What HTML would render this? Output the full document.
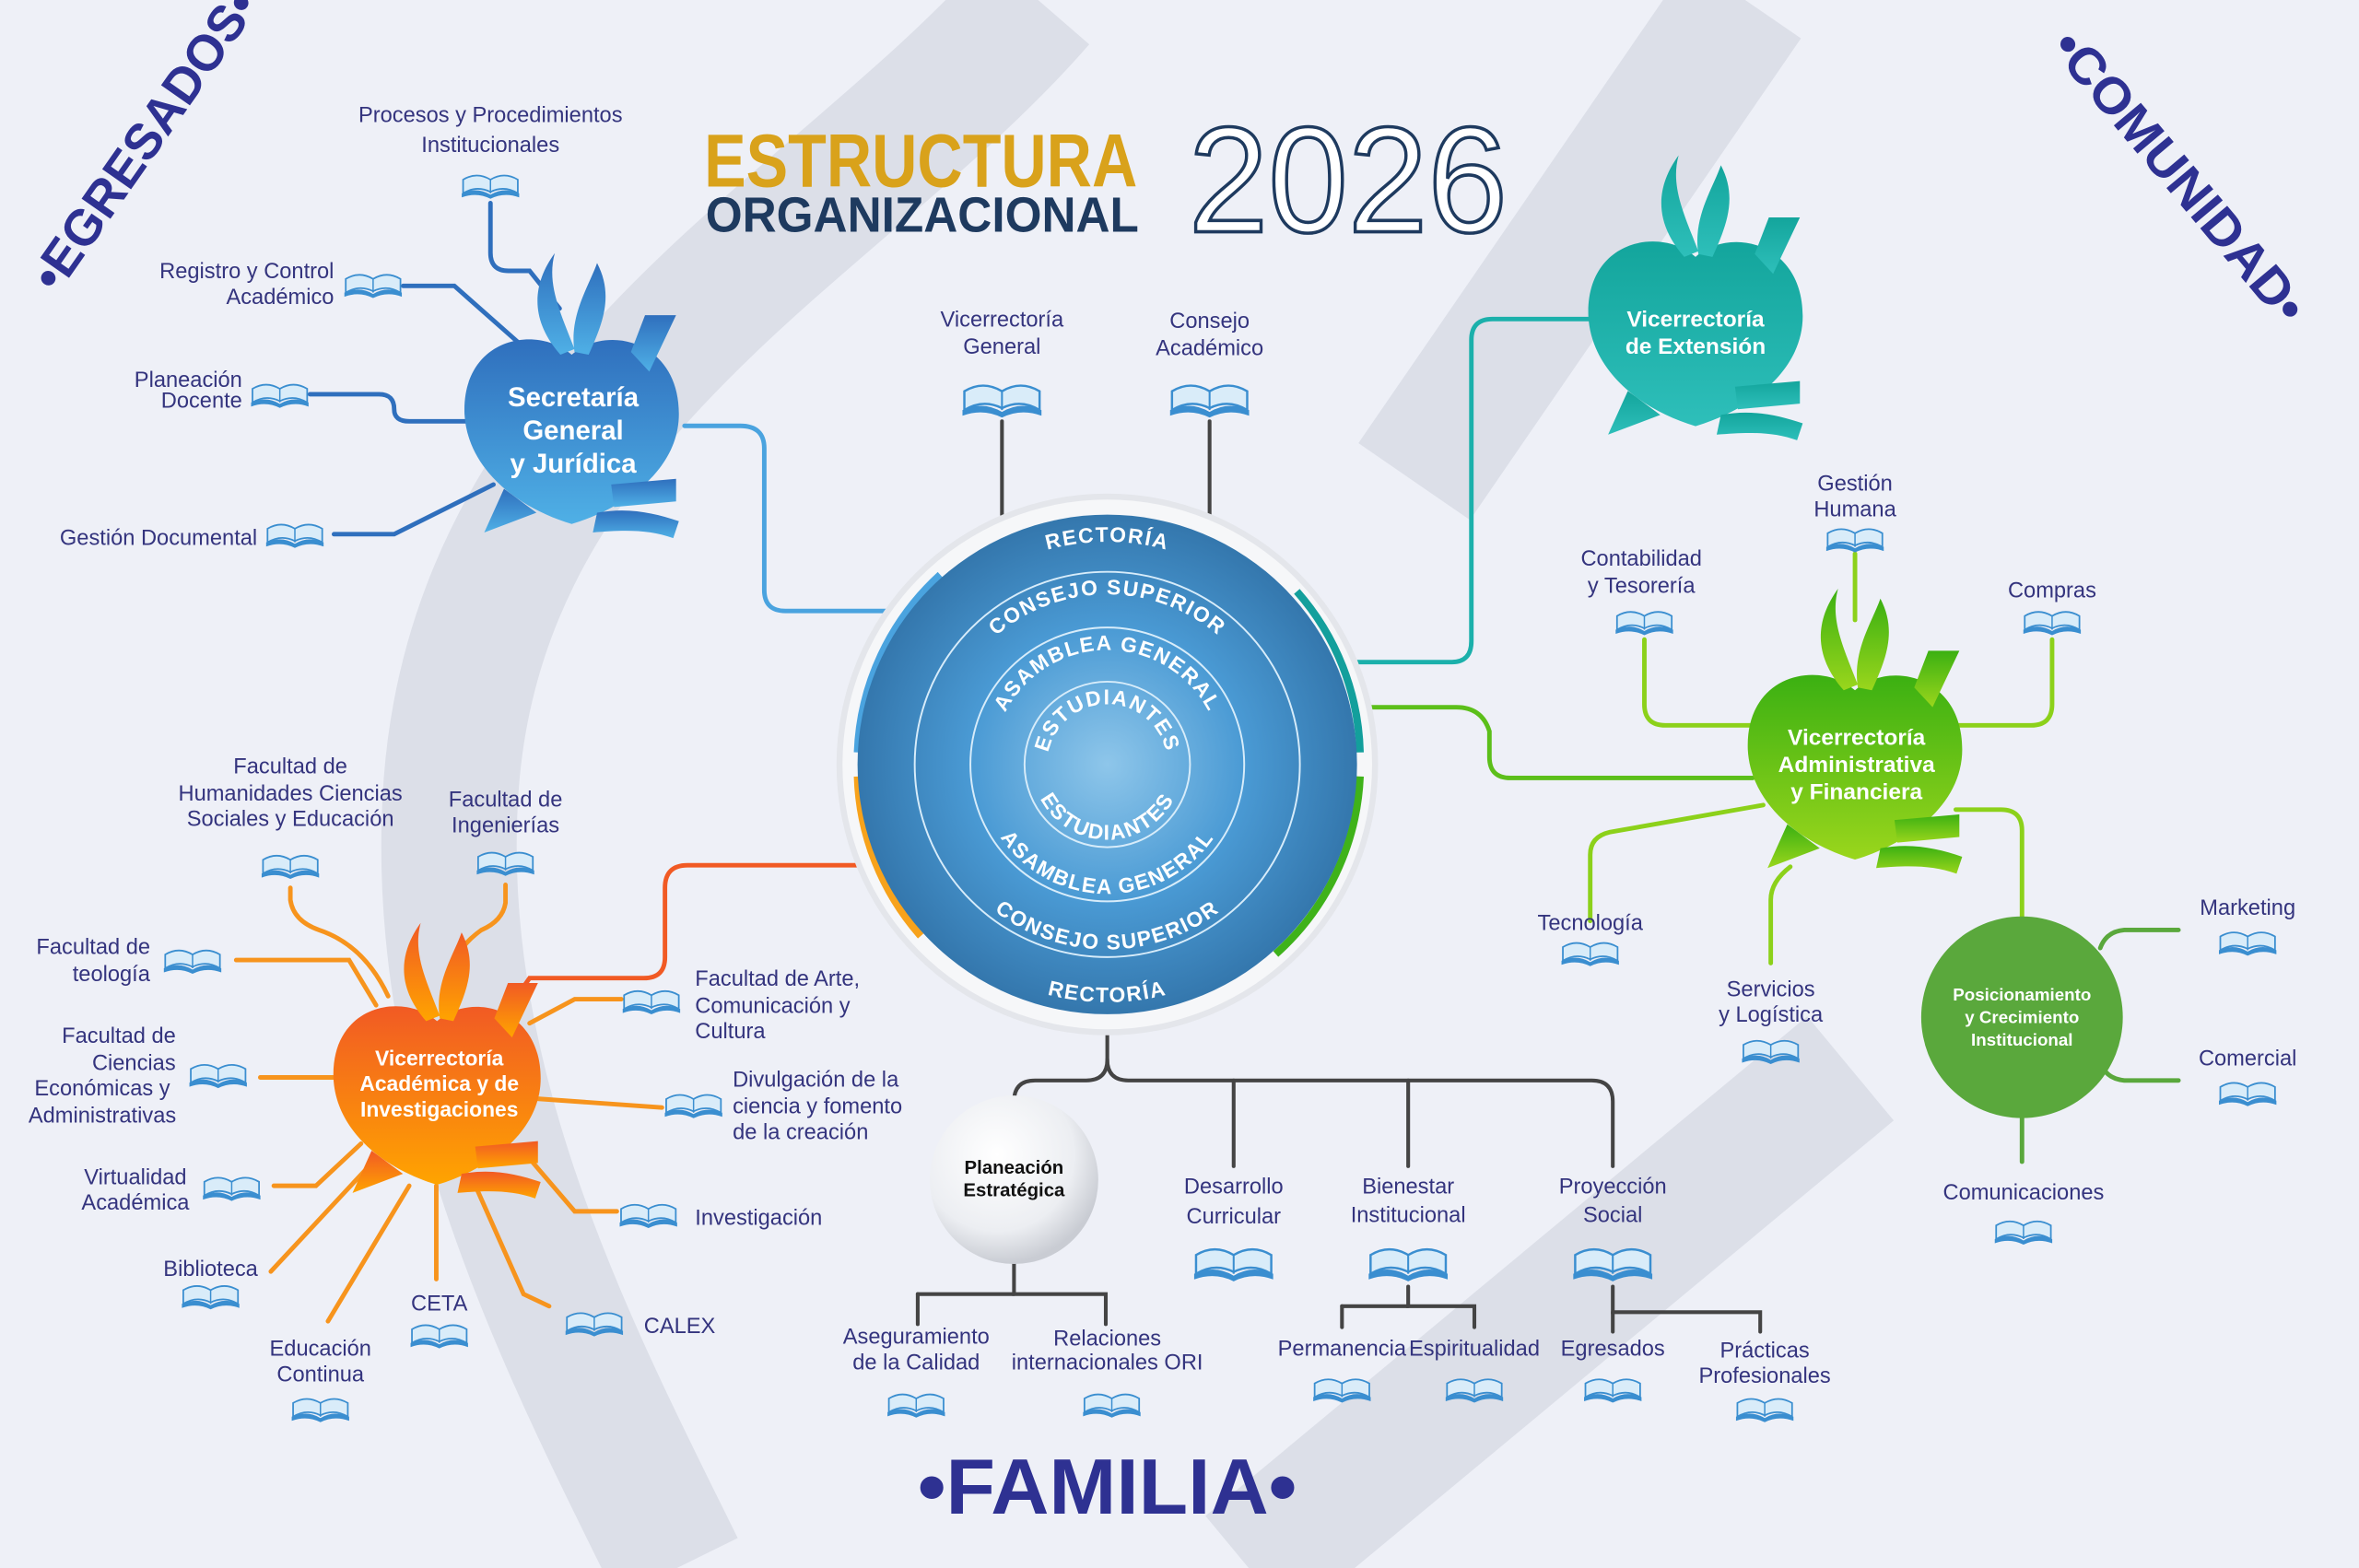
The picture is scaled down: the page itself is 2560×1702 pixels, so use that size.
<!DOCTYPE html>
<html><head><meta charset="utf-8"><style>
html,body{margin:0;padding:0;background:#eef0f7;}
svg{display:block;}
text{font-family:"Liberation Sans",sans-serif;}
.lb{fill:#34347e;font-size:14.5px;text-anchor:middle;}
.lbl{fill:#34347e;font-size:14.5px;text-anchor:start;}
.lbr{fill:#34347e;font-size:14.5px;text-anchor:end;}
.ring{fill:#fff;font-size:14px;font-weight:bold;letter-spacing:1px;}
.nd{fill:#fff;font-weight:bold;text-anchor:middle;}
</style></head><body>
<svg width="2560" height="1702" viewBox="0 0 1568 1042" preserveAspectRatio="none" xmlns="http://www.w3.org/2000/svg">
<defs>
<radialGradient id="cg" cx="50%" cy="50%" r="50%"><stop offset="0" stop-color="#8ec6ea"/><stop offset="0.55" stop-color="#4a9ad4"/><stop offset="1" stop-color="#3477ad"/></radialGradient>
<linearGradient id="gb" x1="0" y1="0" x2="0" y2="1"><stop offset="0" stop-color="#2f6fbd"/><stop offset="1" stop-color="#4fb0e6"/></linearGradient>
<linearGradient id="gt" x1="0" y1="0" x2="0" y2="1"><stop offset="0" stop-color="#13a59c"/><stop offset="1" stop-color="#2ebfba"/></linearGradient>
<linearGradient id="gg" x1="0" y1="0" x2="0" y2="1"><stop offset="0" stop-color="#3bb012"/><stop offset="1" stop-color="#9ad61c"/></linearGradient>
<linearGradient id="go" x1="0" y1="0" x2="0" y2="1"><stop offset="0" stop-color="#f15a24"/><stop offset="1" stop-color="#ffa400"/></linearGradient>
<radialGradient id="gw" cx="40%" cy="35%" r="65%"><stop offset="0" stop-color="#ffffff"/><stop offset="0.7" stop-color="#eceef2"/><stop offset="1" stop-color="#c9ccd3"/></radialGradient>
<symbol id="heart" viewBox="-80 -125 160 205" overflow="visible">
<path d="M0,-50 C-25,-72 -78,-62 -76,-8 C-74,30 -40,58 0,70 C40,58 76,30 76,-8 C76,-60 25,-72 0,-50 Z"/>
<path d="M-8,-50 C-30,-75 -28,-100 -12,-122 C-18,-100 -8,-80 2,-54 Z"/>
<path d="M2,-52 C-2,-78 12,-98 18,-115 C30,-92 22,-72 12,-50 Z"/>
<path d="M42,-52 L52,-78 L74,-78 L55,-38 Z"/>
<path d="M-48,45 L-62,76 L-25,62 Z"/>
<path d="M28,42 L74,38 L74,54 L30,58 Z"/>
<path d="M18,62 C40,58 58,62 76,68 L72,80 C55,74 38,74 15,76 Z"/>
</symbol>
<symbol id="book" viewBox="-22 -12 44 24" overflow="visible">
<path d="M-20,6 Q-10,0 0,5 Q10,0 20,6 L20,-4 Q10,-10 0,-4 Q-10,-10 -20,-4 Z" fill="#d9ecf9" stroke="#3a8ed0" stroke-width="1.2"/>
<path d="M-21,6 Q-10,1 0,7 Q10,1 21,6 L21,9 Q10,5 0,10 Q-10,5 -21,9 Z" fill="#3a8ed0"/>
<line x1="0" y1="-4" x2="0" y2="6" stroke="#3a8ed0" stroke-width="1"/>
</symbol>
<path id="t1" d="M588,508 A148,148 0 0 1 884,508"/>
<path id="t2" d="M623,508 A113,113 0 0 1 849,508"/>
<path id="t3" d="M660,508 A76,76 0 0 1 812,508"/>
<path id="t4" d="M696,508 A40,40 0 0 1 776,508"/>
<path id="b1" d="M578,508 A158,158 0 0 0 894,508"/>
<path id="b2" d="M613,508 A123,123 0 0 0 859,508"/>
<path id="b3" d="M650,508 A86,86 0 0 0 822,508"/>
<path id="b4" d="M686,508 A50,50 0 0 0 786,508"/>
</defs>

<rect width="1568" height="1042" fill="#eef0f7"/>
<g fill="none" stroke="#dcdfe8" stroke-width="90">
<path d="M690,0 C560,150 320,260 300,520 C285,720 380,900 450,1042"/>
<path d="M1160,0 L940,320"/>
<path d="M830,1042 L1230,710"/>
</g>

<text transform="translate(38,196) rotate(-55)" font-size="34" font-weight="bold" fill="#2e3192" textLength="235" lengthAdjust="spacingAndGlyphs">•EGRESADOS•</text>
<text transform="translate(1362,32) rotate(50)" font-size="34" font-weight="bold" fill="#2e3192" textLength="242" lengthAdjust="spacingAndGlyphs">•COMUNIDAD•</text>
<text x="736" y="1006" font-size="52" font-weight="bold" fill="#2e3192" text-anchor="middle" textLength="252" lengthAdjust="spacingAndGlyphs">•FAMILIA•</text>

<text x="468" y="124" font-size="50" font-weight="bold" fill="#d9a21b" textLength="288" lengthAdjust="spacingAndGlyphs">ESTRUCTURA</text>
<text x="469" y="154" font-size="33" font-weight="bold" fill="#1e3a5f" textLength="288" lengthAdjust="spacingAndGlyphs">ORGANIZACIONAL</text>
<text x="790" y="154" font-size="100" fill="#fff" stroke="#1e3a5f" stroke-width="2.2" textLength="212" lengthAdjust="spacingAndGlyphs">2026</text>

<g fill="none" stroke-width="3" stroke-linecap="round">
<g stroke="#2f6fbd">
<path d="M326,135 V168 Q326,180 338,180 H352 L372,205"/>
<path d="M268,190 H302 L345,228"/>
<path d="M206,262 H252 Q262,262 262,272 Q262,280 272,280 H312"/>
<path d="M222,355 H262 L328,322"/>
<path d="M455,283 H492 Q508,283 508,298 V392 Q508,406 522,406 H600" stroke="#4aa3df"/>
</g>
<path d="M895,440 H965 Q978,440 978,426 V226 Q978,212 992,212 H1060" stroke="#1bb0ab"/>
<path d="M905,470 H968 Q985,470 990,486 V503 Q990,517 1004,517 H1165" stroke="#5cbf1a"/>
<g stroke="#8cd11a">
<path d="M1093,425 V468 Q1093,482 1107,482 H1165"/>
<path d="M1233,368 V412"/>
<path d="M1364,425 V468 Q1364,482 1350,482 H1300"/>
<path d="M1057,612 V568 Q1057,556 1070,553 L1172,535"/>
<path d="M1177,640 V598 Q1177,586 1190,576"/>
<path d="M1300,538 H1330 Q1344,538 1344,552 V612"/>
</g>
<g stroke="#5aa83c">
<path d="M1448,618 H1412 Q1400,619 1396,630"/>
<path d="M1448,718 H1412 Q1402,717 1398,710"/>
<path d="M1344,742 V772"/>
</g>
<path d="M345,660 L352,650 H428 Q442,650 442,636 V590 Q442,575 457,575 H578" stroke="#f15a24"/>
<g stroke="#f7941d">
<path d="M193,590 V598 Q195,612 212,618 Q242,628 258,662"/>
<path d="M336,588 V600 Q334,612 320,618 Q306,628 302,640"/>
<path d="M157,638 H232 L250,668"/>
<path d="M173,716 H222"/>
<path d="M182,788 H210 L240,760"/>
<path d="M180,845 L248,772"/>
<path d="M290,850 V788"/>
<path d="M218,878 L272,788"/>
<path d="M365,868 L348,860 L316,788"/>
<path d="M410,805 H382 L352,770"/>
<path d="M440,736 L355,730"/>
<path d="M413,664 H382 L352,680"/>
</g>
<g stroke="#444" stroke-width="2.5">
<path d="M666,280 V342"/><path d="M804,280 V342"/>
<path d="M736,688 V704 Q736,718 722,718 H688 Q674,718 674,732 V735"/>
<path d="M736,704 Q736,718 750,718 H1058 Q1072,718 1072,732 V775"/>
<path d="M820,718 V775"/><path d="M936,718 V775"/>
<path d="M674,840 V860 H735 V880"/><path d="M610,860 H674"/><path d="M610,860 V880"/>
<path d="M936,855 V868 H980 V882"/><path d="M892,868 H936"/><path d="M892,868 V882"/>
<path d="M1072,855 V872 H1170 V885"/><path d="M1072,872 V885"/>
</g>
</g>

<circle cx="736" cy="508" r="180" fill="#e4e6eb"/>
<circle cx="736" cy="508" r="176" fill="#f6f7f9"/>
<g fill="none" stroke-width="5">
<path d="M570,500 A168,168 0 0 1 625,382" stroke="#4aa3df"/>
<path d="M570,516 A168,168 0 0 0 612,622" stroke="#f7a21b"/>
<path d="M862,393 A168,168 0 0 1 904,500" stroke="#139f9c"/>
<path d="M904,516 A168,168 0 0 1 848,634" stroke="#3fb21a"/>
</g>
<circle cx="736" cy="508" r="166" fill="url(#cg)"/>
<g fill="none" stroke="#d7ecfa" stroke-width="1.2">
<circle cx="736" cy="508" r="128"/><circle cx="736" cy="508" r="91"/><circle cx="736" cy="508" r="55"/>
</g>
<text class="ring"><textPath href="#t1" startOffset="50%" text-anchor="middle">RECTORÍA</textPath></text>
<text class="ring" font-size="15"><textPath href="#t2" startOffset="50%" text-anchor="middle">CONSEJO SUPERIOR</textPath></text>
<text class="ring" font-size="15"><textPath href="#t3" startOffset="50%" text-anchor="middle">ASAMBLEA GENERAL</textPath></text>
<text class="ring" font-size="12"><textPath href="#t4" startOffset="50%" text-anchor="middle">ESTUDIANTES</textPath></text>
<text class="ring"><textPath href="#b1" startOffset="50%" text-anchor="middle">RECTORÍA</textPath></text>
<text class="ring" font-size="15"><textPath href="#b2" startOffset="50%" text-anchor="middle">CONSEJO SUPERIOR</textPath></text>
<text class="ring" font-size="15"><textPath href="#b3" startOffset="50%" text-anchor="middle">ASAMBLEA GENERAL</textPath></text>
<text class="ring" font-size="12"><textPath href="#b4" startOffset="50%" text-anchor="middle">ESTUDIANTES</textPath></text>

<use href="#heart" x="305" y="165" width="150" height="193" fill="url(#gb)"/>
<text class="nd" font-size="18"><tspan x="381" y="270">Secretaría</tspan><tspan x="381" y="292">General</tspan><tspan x="381" y="314">y Jurídica</tspan></text>
<use href="#heart" x="1052" y="100" width="150" height="193" fill="url(#gt)"/>
<text class="nd" font-size="15"><tspan x="1127" y="217">Vicerrectoría</tspan><tspan x="1127" y="235">de Extensión</tspan></text>
<use href="#heart" x="1158" y="388" width="150" height="193" fill="url(#gg)"/>
<text class="nd" font-size="15"><tspan x="1234" y="495">Vicerrectoría</tspan><tspan x="1234" y="513">Administrativa</tspan><tspan x="1234" y="531">y Financiera</tspan></text>
<use href="#heart" x="218" y="610" width="145" height="187" fill="url(#go)"/>
<text class="nd" font-size="14"><tspan x="292" y="708">Vicerrectoría</tspan><tspan x="292" y="725">Académica y de</tspan><tspan x="292" y="742">Investigaciones</tspan></text>

<circle cx="1344" cy="676" r="67" fill="#5aa83c"/>
<text class="nd" font-size="11.5"><tspan x="1344" y="665">Posicionamiento</tspan><tspan x="1344" y="680">y Crecimiento</tspan><tspan x="1344" y="695">Institucional</tspan></text>
<circle cx="674" cy="784" r="56" fill="url(#gw)"/>
<text font-size="12.5" font-weight="bold" fill="#111" text-anchor="middle"><tspan x="674" y="780">Planeación</tspan><tspan x="674" y="795">Estratégica</tspan></text>

<g>
<use href="#book" x="306" y="112" width="40" height="22"/>
<use href="#book" x="228" y="178" width="40" height="22"/>
<use href="#book" x="166" y="251" width="40" height="22"/>
<use href="#book" x="176" y="344" width="40" height="22"/>
<use href="#book" x="636" y="250" width="60" height="30"/>
<use href="#book" x="774" y="250" width="60" height="30"/>
<use href="#book" x="173" y="564" width="40" height="22"/>
<use href="#book" x="316" y="562" width="40" height="22"/>
<use href="#book" x="108" y="627" width="40" height="22"/>
<use href="#book" x="125" y="703" width="40" height="22"/>
<use href="#book" x="134" y="778" width="40" height="22"/>
<use href="#book" x="120" y="850" width="40" height="22"/>
<use href="#book" x="272" y="876" width="40" height="22"/>
<use href="#book" x="193" y="925" width="40" height="22"/>
<use href="#book" x="375" y="868" width="40" height="22"/>
<use href="#book" x="411" y="796" width="40" height="22"/>
<use href="#book" x="441" y="723" width="40" height="22"/>
<use href="#book" x="413" y="654" width="40" height="22"/>
<use href="#book" x="790" y="824" width="60" height="30"/>
<use href="#book" x="906" y="824" width="60" height="30"/>
<use href="#book" x="1042" y="824" width="60" height="30"/>
<use href="#book" x="589" y="922" width="40" height="22"/>
<use href="#book" x="719" y="922" width="40" height="22"/>
<use href="#book" x="872" y="912" width="40" height="22"/>
<use href="#book" x="960" y="912" width="40" height="22"/>
<use href="#book" x="1052" y="912" width="40" height="22"/>
<use href="#book" x="1153" y="925" width="40" height="22"/>
<use href="#book" x="1037" y="622" width="40" height="22"/>
<use href="#book" x="1157" y="687" width="40" height="22"/>
<use href="#book" x="1073" y="402" width="40" height="22"/>
<use href="#book" x="1213" y="347" width="40" height="22"/>
<use href="#book" x="1344" y="402" width="40" height="22"/>
<use href="#book" x="1474" y="615" width="40" height="22"/>
<use href="#book" x="1474" y="715" width="40" height="22"/>
<use href="#book" x="1325" y="807" width="40" height="22"/>
</g>

<text class="lb"><tspan x="326" y="81">Procesos y Procedimientos</tspan><tspan x="326" y="101">Institucionales</tspan></text>
<text class="lbr"><tspan x="222" y="185">Registro y Control</tspan><tspan x="222" y="202">Académico</tspan></text>
<text class="lbr"><tspan x="161" y="257">Planeación</tspan><tspan x="161" y="271">Docente</tspan></text>
<text class="lbr" x="171" y="362">Gestión Documental</text>
<text class="lb"><tspan x="666" y="217">Vicerrectoría</tspan><tspan x="666" y="235">General</tspan></text>
<text class="lb"><tspan x="804" y="218">Consejo</tspan><tspan x="804" y="236">Académico</tspan></text>
<text class="lb"><tspan x="193" y="514">Facultad de</tspan><tspan x="193" y="532">Humanidades Ciencias</tspan><tspan x="193" y="549">Sociales y Educación</tspan></text>
<text class="lb"><tspan x="336" y="536">Facultad de</tspan><tspan x="336" y="553">Ingenierías</tspan></text>
<text class="lb"><tspan x="62" y="634">Facultad de</tspan><tspan x="74" y="652">teología</tspan></text>
<text class="lb"><tspan x="79" y="693">Facultad de</tspan><tspan x="89" y="711">Ciencias</tspan><tspan x="68" y="728">Económicas y</tspan><tspan x="68" y="746">Administrativas</tspan></text>
<text class="lb"><tspan x="90" y="787">Virtualidad</tspan><tspan x="90" y="804">Académica</tspan></text>
<text class="lb" x="140" y="848">Biblioteca</text>
<text class="lb" x="292" y="871">CETA</text>
<text class="lb"><tspan x="213" y="901">Educación</tspan><tspan x="213" y="918">Continua</tspan></text>
<text class="lbl" x="428" y="886">CALEX</text>
<text class="lbl" x="462" y="814">Investigación</text>
<text class="lbl"><tspan x="487" y="722">Divulgación de la</tspan><tspan x="487" y="740">ciencia y fomento</tspan><tspan x="487" y="757">de la creación</tspan></text>
<text class="lbl"><tspan x="462" y="655">Facultad de Arte,</tspan><tspan x="462" y="673">Comunicación y</tspan><tspan x="462" y="690">Cultura</tspan></text>
<text class="lb"><tspan x="820" y="793">Desarrollo</tspan><tspan x="820" y="813">Curricular</tspan></text>
<text class="lb"><tspan x="936" y="793">Bienestar</tspan><tspan x="936" y="812">Institucional</tspan></text>
<text class="lb"><tspan x="1072" y="793">Proyección</tspan><tspan x="1072" y="812">Social</tspan></text>
<text class="lb" font-size="13.5"><tspan x="609" y="893">Aseguramiento</tspan><tspan x="609" y="910">de la Calidad</tspan></text>
<text class="lb" font-size="13.5"><tspan x="736" y="894">Relaciones</tspan><tspan x="736" y="910">internacionales ORI</tspan></text>
<text class="lb" font-size="13" x="892" y="901">Permanencia</text>
<text class="lb" font-size="13" x="980" y="901">Espiritualidad</text>
<text class="lb" font-size="13.5" x="1072" y="901">Egresados</text>
<text class="lb" font-size="13.5"><tspan x="1173" y="902">Prácticas</tspan><tspan x="1173" y="919">Profesionales</tspan></text>
<text class="lb" x="1057" y="618">Tecnología</text>
<text class="lb"><tspan x="1177" y="662">Servicios</tspan><tspan x="1177" y="679">y Logística</tspan></text>
<text class="lb"><tspan x="1091" y="376">Contabilidad</tspan><tspan x="1091" y="394">y Tesorería</tspan></text>
<text class="lb"><tspan x="1233" y="326">Gestión</tspan><tspan x="1233" y="343">Humana</tspan></text>
<text class="lb" x="1364" y="397">Compras</text>
<text class="lb" x="1494" y="608">Marketing</text>
<text class="lb" x="1494" y="708">Comercial</text>
<text class="lb" x="1345" y="797">Comunicaciones</text>
</svg>
</body></html>
